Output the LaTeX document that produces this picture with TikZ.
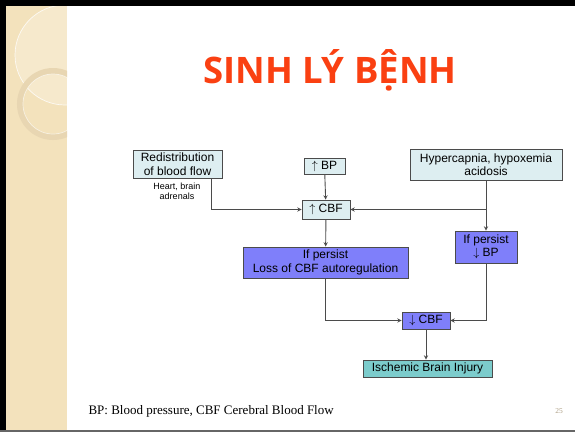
\documentclass[tikz,border=0pt]{standalone}
\usepackage{fontspec}
\setmainfont{Liberation Sans}
\newfontfamily\titlefont{Open Sans}
\newfontfamily\footfont{Liberation Serif}
\usepackage{tikz}
\usetikzlibrary{arrows,shapes,positioning}
\usepackage{xcolor}
\definecolor{sltan}{RGB}{243,226,188}
\definecolor{slring}{RGB}{232,214,178}
\definecolor{sltitle}{RGB}{250,64,18}
\definecolor{slpale}{RGB}{221,238,241}
\definecolor{slpurple}{RGB}{127,127,250}
\definecolor{slteal}{RGB}{124,204,204}
\definecolor{slline}{RGB}{75,75,75}
\tikzstyle{arrow} = [line width=0.9pt,->,>=stealth,color=slline]
\tikzstyle{box} = [draw=slline, line width=0.9pt, inner sep=1pt, align=center, font=\fontsize{12}{13.5}\selectfont]
\tikzstyle{palebox} = [box, fill=slpale]
\tikzstyle{persistbox} = [box, fill=slpurple]

\begin{document}
\begin{tikzpicture}[x=1pt, y=-1pt]
\useasboundingbox (0,0) rectangle (575,432);
% Slide background
\fill[white] (0,0) rectangle (575,432);
\fill[sltan] (6,6) rectangle (67,430);
\begin{scope}
\clip (6,6) rectangle (67,430);
\fill[white, opacity=0.25] (65,55) circle (50);
\draw[white, opacity=0.8, line width=0.7pt] (65,55) circle (50);
\draw[slring, line width=6pt] (53,104) circle (33);
\draw[white, opacity=0.6, line width=0.7pt] (53,104) circle (30);
\end{scope}
\fill[black] (0,0) rectangle (575,6);
\fill[black] (0,0) rectangle (6,432);
\fill[black!60] (0,430) rectangle (575,432);

% Title
\node[font=\titlefont\bfseries\fontsize{36.5}{40}\selectfont, text=sltitle] (title) at (330,70) {SINH LÝ BỆNH};

% Boxes
\node[palebox, minimum width=89, minimum height=28] (redist) at (177.5,164) {Redistribution\\of blood flow};
\node[font=\fontsize{9}{10.5}\selectfont, align=center] (organs) at (177,191.5) {Heart, brain\\adrenals};
\node[palebox, minimum width=41, minimum height=16] (upbp) at (324.5,166) {$\uparrow$ BP};
\node[palebox, minimum width=48, minimum height=19] (upcbf) at (326,209.5) {$\uparrow$ CBF};
\node[palebox, minimum width=152, minimum height=31] (hyper) at (486,164.5) {Hypercapnia, hypoxemia\\acidosis};
\node[persistbox, minimum width=62, minimum height=32] (persistbp) at (486,247) {If persist\\$\downarrow$ BP};
\node[persistbox, minimum width=165, minimum height=31] (loss) at (325.5,262.5) {If persist\\Loss of CBF autoregulation};
\node[persistbox, minimum width=48, minimum height=17] (downcbf) at (426,320.5) {$\downarrow$ CBF};
\node[box, fill=slteal, minimum width=129, minimum height=17] (ischemic) at (427.5,368.5) {Ischemic Brain Injury};

% Connectors
\coordinate (split) at (hyper.south |- upcbf);
\draw[arrow] ([xshift=33.5pt]redist.south) |- (upcbf.west);
\draw[arrow] (upbp) -- (upcbf);
\draw[arrow] (hyper) -- (persistbp);
\draw[arrow] (split) -- (upcbf.east);
\draw[arrow] (upcbf) -- (loss);
\draw[arrow] (loss.south) |- (downcbf.west);
\draw[arrow] (persistbp.south) |- (downcbf.east);
\draw[arrow] (downcbf.south) -- (downcbf.south |- ischemic.north);

% Footer
\node[font=\footfont\fontsize{13}{15}\selectfont, anchor=west] (legend) at (85,411) {BP: Blood pressure, CBF Cerebral Blood Flow};
\node[font=\footfont\fontsize{7.5}{9}\selectfont, text=slring!75!black] (pagenum) at (559,411) {25};
\end{tikzpicture}
\end{document}
